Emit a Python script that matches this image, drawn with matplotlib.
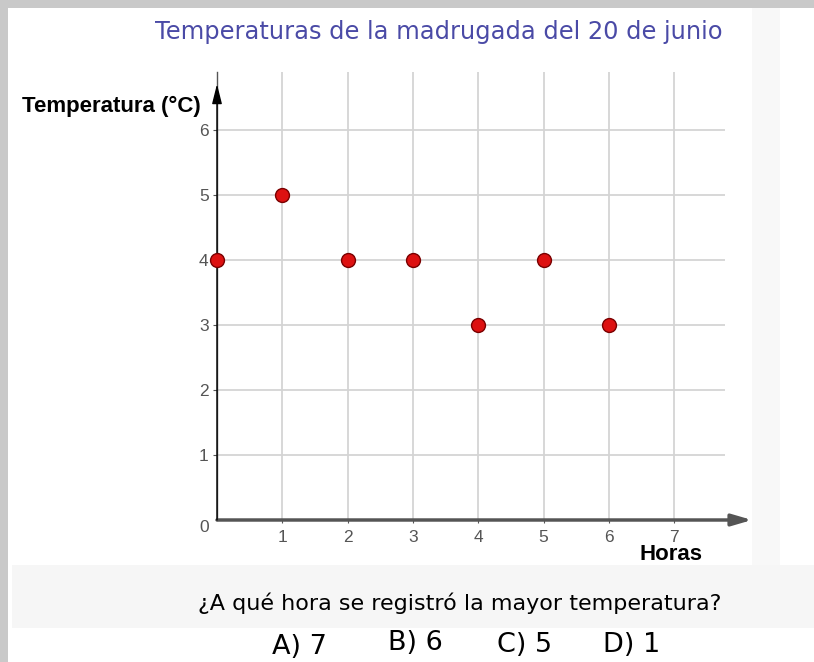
import matplotlib
matplotlib.use("Agg")
import matplotlib.pyplot as plt
from matplotlib.patches import Rectangle

hours = [0, 1, 2, 3, 4, 5, 6]
temps = [4, 5, 4, 4, 3, 4, 3]
x_ticks = [1, 2, 3, 4, 5, 6, 7]
y_ticks = [1, 2, 3, 4, 5, 6]
title = "Temperaturas de la madrugada del 20 de junio"
question = "¿A qué hora se registró la mayor temperatura?"
answers = ["A) 7", "B) 6", "C) 5", "D) 1"]

W, H = 814, 662
fig = plt.figure(figsize=(W / 100, H / 100), dpi=100)
fig.patch.set_facecolor("white")

def fx(px):
    return px / W

def fy(py):
    return 1 - py / H

def frect(x0, y0, x1, y1, color):
    fig.patches.append(Rectangle((fx(x0), fy(y1)), fx(x1) - fx(x0), fy(y0) - fy(y1),
                                 transform=fig.transFigure, facecolor=color,
                                 edgecolor="none", zorder=0))

# background panels
frect(0, 0, W, 8, "#c9c9c9")
frect(0, 0, 8, H, "#c9c9c9")
frect(752, 8, 780, 565, "#f8f8f8")
frect(12, 565, W, 628, "#f6f6f6")

# axes
x0px, x1px = 217, 725
y0px, y1px = 520, 72
ax = fig.add_axes([fx(x0px), fy(y0px), fx(x1px) - fx(x0px), fy(y1px) - fy(y0px)])
ax.set_facecolor("none")
xmax = (x1px - x0px) / 65.3
ymax = (y0px - y1px) / 65.0
ax.set_xlim(0, xmax)
ax.set_ylim(0, ymax)
ax.set_xticks(x_ticks)
ax.set_yticks(y_ticks)
ax.grid(True, color="#d4d4d4", linewidth=1.3)
ax.set_axisbelow(True)
for s in ["top", "right"]:
    ax.spines[s].set_visible(False)
ax.spines["left"].set_color("#555555")
ax.spines["left"].set_linewidth(1.0)
ax.spines["bottom"].set_visible(False)
ax.tick_params(axis="both", colors="#555555", labelcolor="#555555", labelsize=12.5,
               length=3)
for lab in ax.get_xticklabels() + ax.get_yticklabels():
    lab.set_family("Liberation Sans")
ax.tick_params(axis="x", length=2, pad=5)
ax.tick_params(axis="y", pad=3)

# x-axis arrow (thicker)
xarrow = (752 - x0px) / 65.3
ax.annotate("", xy=(xarrow, 0), xytext=(0, 0), xycoords="data",
            arrowprops=dict(arrowstyle="-|>,head_length=1.2,head_width=0.35", color="#555555",
                            lw=2.5, shrinkA=0, shrinkB=0), annotation_clip=False)
yarrow = (y0px - 84) / 65.0
ax.annotate("", xy=(0, yarrow), xytext=(0, 0), xycoords="data",
            arrowprops=dict(arrowstyle="-|>,head_length=1.2,head_width=0.3", color="black",
                            lw=1.0, shrinkA=0, shrinkB=0), annotation_clip=False)

ax.text(-0.2, -0.12, "0", color="#555555", fontsize=12.5, family="Liberation Sans",
        ha="center", va="center")

ax.plot(hours, temps, "o", color="#dd1111", markeredgecolor="#7a0000",
        markeredgewidth=1.0, markersize=10, clip_on=False, zorder=5)

# texts
fig.text(fx(439), fy(32), title, color="#4a4aa6", fontsize=17.4,
         family="DejaVu Sans", ha="center", va="center")
fig.text(fx(22), fy(106), "Temperatura (°C)", color="black", fontsize=16,
         family="Liberation Sans", weight="bold", ha="left", va="center")
fig.text(fx(671), fy(554), "Horas", color="black", fontsize=16,
         family="Liberation Sans", weight="bold", ha="center", va="center")
fig.text(fx(460), fy(603), question, color="black", fontsize=16,
         family="DejaVu Sans", ha="center", va="center")
ans_x = [300, 415, 525, 632]
ans_y = [647, 643, 645, 645]
for a, xp, yp in zip(answers, ans_x, ans_y):
    fig.text(fx(xp), fy(yp), a, color="black", fontsize=19.5,
             family="DejaVu Sans", ha="center", va="center")

fig.savefig("out.png", dpi=100)
